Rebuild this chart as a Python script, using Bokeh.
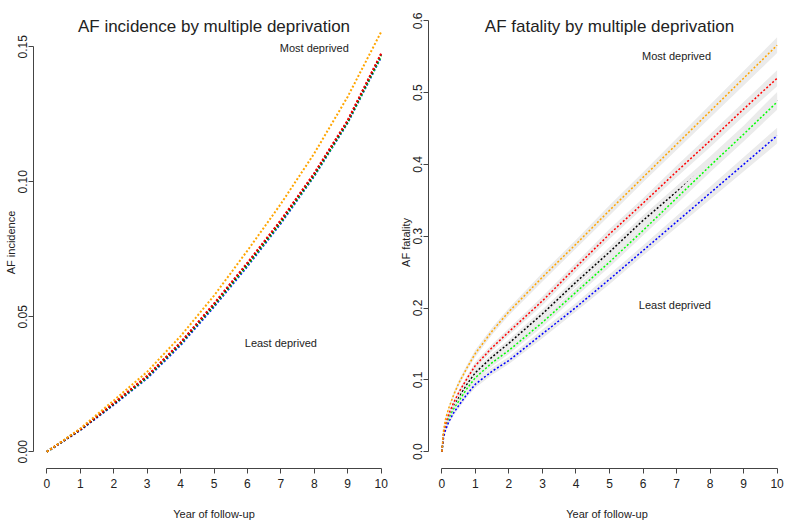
import numpy as np
from bokeh.plotting import figure
from bokeh.layouts import row
from bokeh.models import Label, FixedTicker, Range1d, NumeralTickFormatter
from bokeh.embed import file_html
from bokeh.resources import INLINE

FONT = "Liberation Sans"

# ---------------- data: AF incidence ----------------
years_inc = [0, 1, 2, 3, 4, 5, 6, 7, 8, 9, 10]
inc_orange = [0, 0.0086, 0.0190, 0.0296, 0.0428, 0.0578, 0.0745, 0.0918, 0.1105, 0.1315, 0.1555]
inc_red = [0, 0.0083, 0.0180, 0.0281, 0.0405, 0.0549, 0.0700, 0.0858, 0.1032, 0.1228, 0.1475]
inc_black = [0, 0.0082, 0.0178, 0.0279, 0.0403, 0.0546, 0.0697, 0.0855, 0.1029, 0.1225, 0.1472]
inc_green = [0, 0.0082, 0.0177, 0.0276, 0.0400, 0.0542, 0.0692, 0.0850, 0.1024, 0.1220, 0.1465]
inc_blue = [0, 0.0080, 0.0174, 0.0272, 0.0395, 0.0537, 0.0687, 0.0846, 0.1021, 0.1218, 0.1462]

# ---------------- data: AF fatality ----------------
years_fat = [0, 0.05, 0.1, 0.2, 0.35, 0.5, 0.75, 1, 1.5, 2, 3, 4, 5, 6, 7, 8, 9, 10]
fat_orange = [0, 0.030, 0.044, 0.060, 0.079, 0.095, 0.117, 0.137, 0.168, 0.195, 0.243, 0.289, 0.336, 0.382, 0.428, 0.474, 0.520, 0.566]
fat_red = [0, 0.026, 0.037, 0.052, 0.068, 0.082, 0.102, 0.120, 0.145, 0.167, 0.210, 0.257, 0.303, 0.346, 0.390, 0.433, 0.477, 0.520]
fat_black = [0, 0.024, 0.034, 0.048, 0.063, 0.075, 0.094, 0.110, 0.132, 0.151, 0.192, 0.236, 0.278, 0.322, 0.362, 0.402, 0.444, 0.490]
fat_green = [0, 0.022, 0.032, 0.045, 0.059, 0.070, 0.088, 0.103, 0.124, 0.141, 0.180, 0.222, 0.264, 0.308, 0.353, 0.398, 0.442, 0.487]
fat_blue = [0, 0.020, 0.029, 0.041, 0.054, 0.064, 0.080, 0.094, 0.112, 0.127, 0.164, 0.201, 0.240, 0.280, 0.320, 0.360, 0.400, 0.440]
fat_ci = [0, 0.002, 0.003, 0.003, 0.004, 0.004, 0.004, 0.005, 0.005, 0.005, 0.006, 0.006, 0.007, 0.007, 0.008, 0.009, 0.010, 0.011]

x_ticks = [0, 1, 2, 3, 4, 5, 6, 7, 8, 9, 10]
inc_ticks = [0, 0.05, 0.10, 0.15]
fat_ticks = [0, 0.1, 0.2, 0.3, 0.4, 0.5, 0.6]

COLORS = {"orange": "#FFA500", "red": "#FF0000", "black": "#000000",
          "green": "#00FF00", "blue": "#0000FF"}
BAND = "#EBEBEB"
AXC = "#444444"
TXT = "#222222"


def style(p, yticks, fmt, ylabel):
    p.xaxis.ticker = FixedTicker(ticks=x_ticks)
    p.xaxis.bounds = (x_ticks[0], x_ticks[-1])
    p.yaxis.ticker = FixedTicker(ticks=yticks)
    p.yaxis.bounds = (yticks[0], yticks[-1])
    p.yaxis.formatter = NumeralTickFormatter(format=fmt)
    for ax in (p.xaxis[0], p.yaxis[0]):
        ax.axis_line_color = AXC
        ax.axis_line_width = 1
        ax.major_tick_line_color = AXC
        ax.major_tick_out = 5
        ax.major_tick_in = 0
        ax.minor_tick_line_color = None
        ax.major_label_text_font = FONT
        ax.major_label_text_font_size = "12px"
        ax.major_label_text_color = TXT
        ax.axis_label_text_font = FONT
        ax.axis_label_text_font_size = "11px"
        ax.axis_label_text_font_style = "normal"
        ax.axis_label_text_color = TXT
    p.xaxis.major_label_standoff = 5
    p.xaxis.axis_label = "Year of follow-up"
    p.xaxis.axis_label_standoff = 17
    p.yaxis.axis_label = ylabel
    p.yaxis.axis_label_standoff = -1
    p.yaxis.major_label_orientation = "vertical"
    p.yaxis.major_label_standoff = 1
    p.xgrid.visible = False
    p.ygrid.visible = False
    p.outline_line_color = None


def title_label(text):
    return Label(x=5, y=442, x_units="data", y_units="screen", text=text,
                 text_align="center", text_baseline="alphabetic", text_font=FONT,
                 text_font_size="17px", text_color=TXT)


def note(x, y, text):
    return Label(x=x, y=y, text=text, text_align="center", text_baseline="middle",
                 text_font=FONT, text_font_size="11px", text_color=TXT)


# ---------------- left panel ----------------
p1 = figure(width=394, height=524, frame_width=361, frame_height=452,
            x_range=Range1d(-0.4, 10.4), y_range=Range1d(-0.0062, 0.1612),
            output_backend="svg", toolbar_location=None, title=None,
            min_border_left=33, min_border_right=0, min_border_top=16,
            min_border_bottom=56, background_fill_color="white",
            border_fill_color="white")
style(p1, inc_ticks, "0.00", "AF incidence")
for vals, c in [(inc_blue, "blue"), (inc_green, "green"), (inc_black, "black"),
                (inc_red, "red"), (inc_orange, "orange")]:
    p1.line(years_inc, vals, line_color=COLORS[c], line_width=2, line_dash="2 2")

p1.add_layout(title_label("AF incidence by multiple deprivation"))
p1.add_layout(note(8, 0.1496, "Most deprived"))
p1.add_layout(note(7.0, 0.0404, "Least deprived"))

# ---------------- right panel ----------------
p2 = figure(width=391, height=524, frame_width=357, frame_height=452,
            x_range=Range1d(-0.4, 10.25), y_range=Range1d(-0.0235, 0.606),
            output_backend="svg", toolbar_location=None, title=None,
            min_border_left=34, min_border_right=0, min_border_top=16,
            min_border_bottom=56, background_fill_color="white",
            border_fill_color="white")
style(p2, fat_ticks, "0.0", "AF fatality")
ci = np.array(fat_ci)
for vals, c in [(fat_black, "black"), (fat_green, "green"), (fat_blue, "blue"),
                (fat_red, "red"), (fat_orange, "orange")]:
    v = np.array(vals)
    p2.varea(x=years_fat, y1=v - ci, y2=v + ci, fill_color=BAND, fill_alpha=1)
    p2.line(years_fat, vals, line_color=COLORS[c], line_width=1.5, line_dash="2 2")

p2.add_layout(title_label("AF fatality by multiple deprivation"))
p2.add_layout(note(7.0, 0.5515, "Most deprived"))
p2.add_layout(note(6.95, 0.2047, "Least deprived"))

layout = row(p1, p2, spacing=0)
open("out.html", "w").write(file_html(layout, INLINE))
